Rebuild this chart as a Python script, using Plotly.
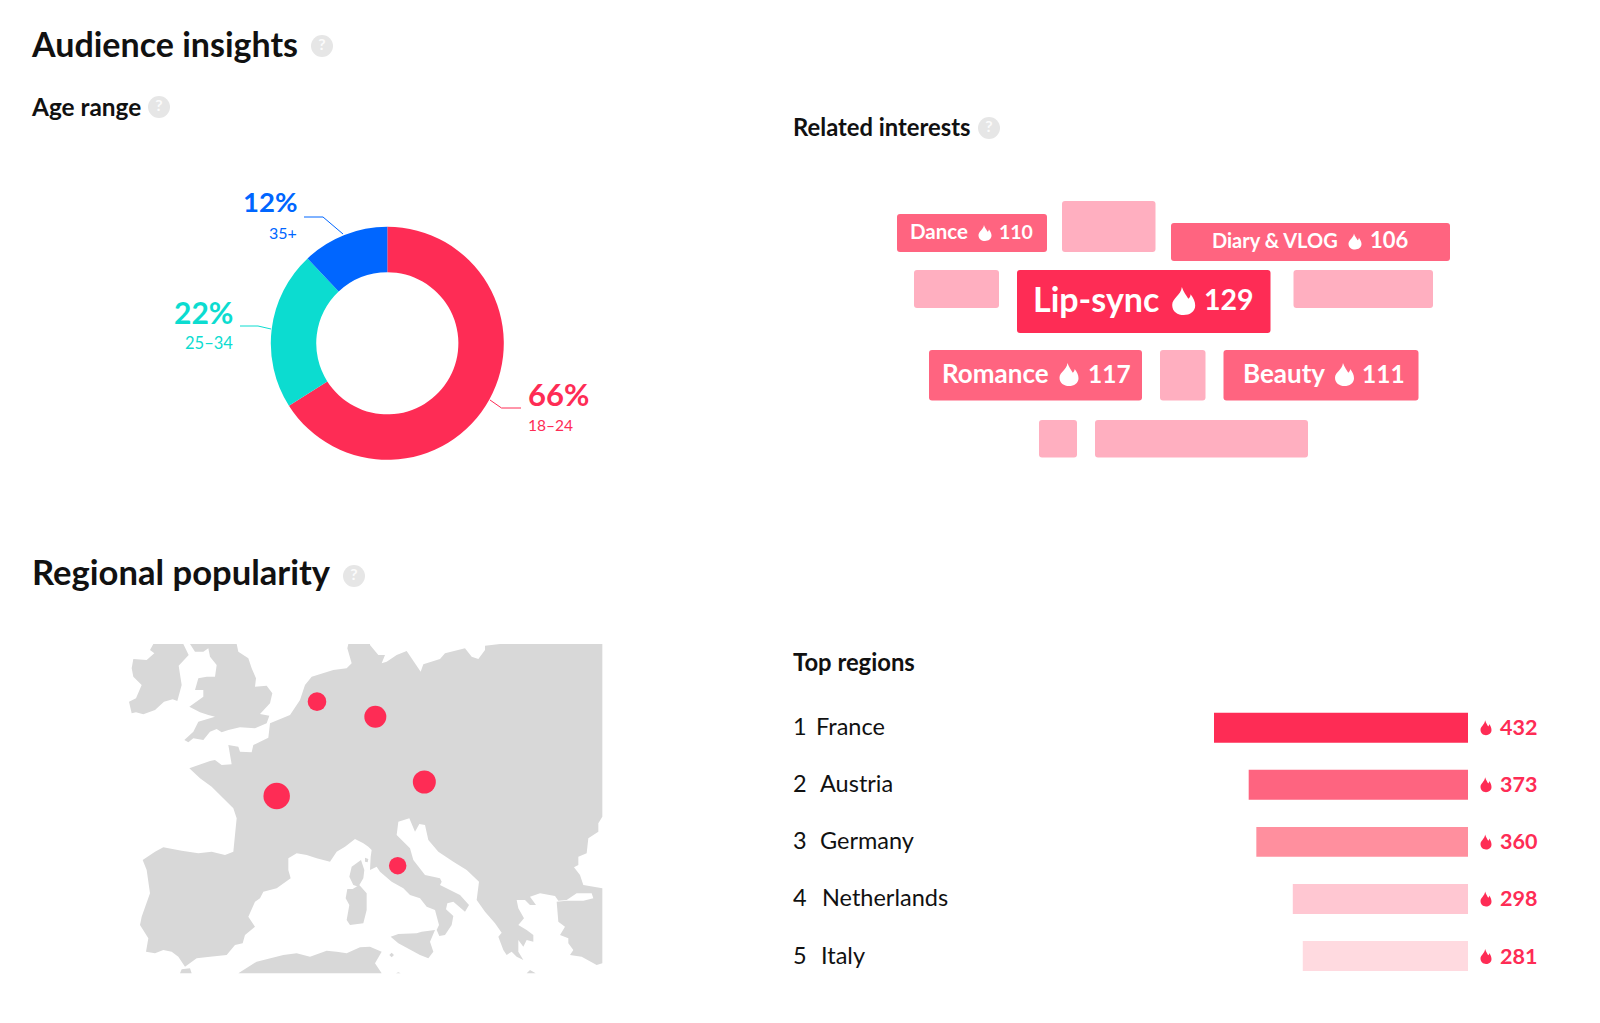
import plotly.graph_objects as go

FONT = "Lato"
RED = "#fe2c55"
TEAL = "#0cdcd0"
BLUE = "#0066ff"
INK = "#111111"
W, H = 1600, 1023

# ---- Age range
age_labels = ["18-24", "25-34", "35+"]
age_values = [66, 22, 12]
age_colors = [RED, TEAL, BLUE]

# ---- Related interests
interest_names = ["Dance", "", "Diary & VLOG", "", "Lip-sync", "", "Romance", "", "Beauty", "", ""]
interest_values = [110, None, 106, None, 129, None, 117, None, 111, None, None]
tile_x0 = [897, 1062, 1171, 914, 1017, 1293.5, 929, 1160, 1223.5, 1039, 1095]
tile_x1 = [1047, 1155.5, 1450, 999, 1270.5, 1433, 1142, 1205.5, 1418.5, 1077, 1308]
tile_y0 = [214, 201, 223, 270, 270, 270, 350, 350, 350, 420, 420]
tile_y1 = [252, 252, 261, 308, 333, 308, 400.5, 400.5, 400.5, 457.5, 457.5]
tile_colors = ["#ff6480", "#ffafc0", "#ff6480", "#ffafc0", RED, "#ffafc0",
               "#ff6480", "#ffafc0", "#ff6480", "#ffafc0", "#ffafc0"]

# ---- Top regions
regions = ["France", "Austria", "Germany", "Netherlands", "Italy"]
region_values = [432, 373, 360, 298, 281]
region_colors = [RED, "#fe6480", "#ff8f9e", "#ffc7d2", "#ffdae0"]
region_name_x = [815, 819, 819, 821, 820]

# ---- Map outlines (map units: 1530 x 1050 box)
ireland_x = [160,250,266,250,236,245,232,218,192,165,130,108,95,87,108,125,100,95,100,140,163,150]
ireland_y = [27,27,60,78,92,150,198,193,200,225,238,232,235,200,190,150,125,100,72,75,55,45]
britain_x = [270,410,415,445,455,468,465,500,517,510,480,508,500,465,420,385,365,350,330,310,280,265,253,280,295,345,325,300,268,310,310,285,295,320,345,350,330,325,310,285]
britain_y = [27,27,50,70,100,130,155,152,175,205,237,242,265,280,277,285,292,282,290,315,310,322,315,290,260,245,240,232,215,185,165,165,130,125,125,90,65,40,50,50]
mainland_x = [745,810,810,835,855,845,860,890,920,935,940,962,970,1020,1035,1095,1115,1135,1155,1155,1200,1507,
              1507,1495,1495,1465,1460,1435,1435,1422,1440,1450,1507,1507,1490,1460,1445,1410,1420,1405,1405,1380,1395,1375,1370,1400,1450,1480,1475,1430,1400,1375,
              1365,1320,1290,1308,1290,1275,1250,1255,1272,1255,1280,1300,1300,1280,1270,1255,1255,1270,1250,1235,1220,1210,1195,1205,1185,1155,1130,1137,1100,1060,1015,985,975,958,945,928,895,890,930,940,975,1020,1025,1020,1080,1107,1095,1060,1042,1038,1060,1055,1035,1018,1010,1017,1005,980,960,930,910,875,840,830,810,812,815,805,790,765,
              735,710,690,650,620,590,565,565,572,530,490,480,465,445,465,435,428,405,380,330,290,255,235,215,190,165,138,145,120,125,150,140,128,165,190,245,295,335,375,400,410,
              400,370,335,300,268,330,345,365,395,385,415,420,455,460,505,510,570,600,615,635,700,740,755,742]
mainland_y = [27,27,30,60,60,85,80,60,48,70,80,110,88,72,55,40,65,72,45,32,27,27,
              545,565,590,610,655,665,690,697,720,750,760,985,990,975,965,960,945,925,910,900,875,860,800,797,797,790,775,775,795,797,
              783,775,785,810,810,795,795,820,850,870,885,900,920,915,935,915,950,975,965,950,960,945,905,893,865,830,795,740,705,680,650,615,570,567,590,550,560,600,640,675,720,730,740,750,780,810,830,800,805,823,843,870,900,903,885,870,825,815,790,780,760,740,710,695,705,665,645,635,625,612,
              635,650,680,670,660,655,670,705,730,760,770,790,800,845,875,900,925,930,960,965,970,995,965,950,945,955,950,910,870,845,775,705,675,650,637,647,655,650,660,650,550,
              520,490,455,430,400,378,375,390,388,330,335,350,352,330,308,265,240,195,150,125,105,100,85,40]
corsica_x = [783,793,790,775,760,748,755]
corsica_y = [675,705,730,755,750,725,695]
elba_x = [795,805,803,795]
elba_y = [668,672,682,680]
sardinia_x = [742,758,778,800,800,790,750,740,748,737]
sardinia_y = [762,762,750,775,825,865,870,855,810,790]
sicily_x = [872,895,950,965,1005,990,1000,985,960,925,895]
sicily_y = [905,897,895,890,885,920,950,970,960,940,925]
africa_x = [415,440,470,550,590,630,680,710,740,780,810,845,825,845]
africa_y = [1015,1000,980,960,955,965,947,950,955,937,935,950,985,1015]
spain_tip_x = [240,245,270,275]
spain_tip_y = [1015,1003,1000,1015]
malta_x = [868,875,882,875]
malta_y = [960,953,960,967]
crete_x = [1280,1290,1307]
crete_y = [1015,1005,1015]
islet_x = [888,895,902]
islet_y = [1015,1012,1015]
bubble_regions = ["France", "Netherlands", "Germany", "Austria", "Italy"]
bubble_x = [530, 651, 826, 973, 893]
bubble_y = [483, 200, 245, 441, 692]
bubble_sizes = [26.5, 18.6, 22, 23, 17.5]

land = [(ireland_x, ireland_y), (britain_x, britain_y), (mainland_x, mainland_y),
        (corsica_x, corsica_y), (elba_x, elba_y), (sardinia_x, sardinia_y), (sicily_x, sicily_y),
        (africa_x, africa_y), (spain_tip_x, spain_tip_y),
        (malta_x, malta_y), (crete_x, crete_y), (islet_x, islet_y)]
land_x, land_y = [], []
for xs, ys in land:
    land_x += xs + [xs[0], None]
    land_y += ys + [ys[0], None]

fig = go.Figure()

fig.update_layout(
    xaxis=dict(domain=[0, 1], range=[0, W], visible=False, fixedrange=True),
    yaxis=dict(domain=[0, 1], range=[H, 0], visible=False, fixedrange=True),
    xaxis2=dict(domain=[1214 / W, 1468 / W], range=[432, 0], visible=False, anchor="y2"),
    yaxis2=dict(domain=[1 - 984.6 / H, 1 - 699.2 / H], autorange="reversed", visible=False,
                anchor="x2", type="category", categoryorder="array", categoryarray=regions),
    xaxis3=dict(domain=[100 / W, 610 / W], range=[0, 1530], visible=False, anchor="y3"),
    yaxis3=dict(domain=[1 - 985 / H, 1 - 635 / H], range=[1050, 0], visible=False, anchor="x3"),
)

# donut
fig.add_trace(go.Pie(
    labels=age_labels, values=age_values, sort=False, direction="clockwise", rotation=0,
    hole=0.61, marker=dict(colors=age_colors, line=dict(width=0)), textinfo="none",
    domain=dict(x=[270.8 / W, 503.8 / W], y=[1 - 460 / H, 1 - 226.6 / H]), showlegend=False))

# interest tiles
fig.add_trace(go.Bar(
    orientation="h", base=tile_x0, x=[b - a for a, b in zip(tile_x0, tile_x1)],
    y=[(a + b) / 2 for a, b in zip(tile_y0, tile_y1)],
    width=[b - a for a, b in zip(tile_y0, tile_y1)],
    marker=dict(color=tile_colors, cornerradius=3, line=dict(width=0)),
    xaxis="x", yaxis="y", showlegend=False, hoverinfo="skip"))

# region bars
fig.add_trace(go.Bar(
    orientation="h", y=regions, x=region_values, width=0.524,
    marker=dict(color=region_colors, line=dict(width=0)),
    xaxis="x2", yaxis="y2", showlegend=False))

# map
fig.add_trace(go.Scatter(x=land_x, y=land_y, mode="lines", fill="toself", fillcolor="#d8d8d8",
                         line=dict(width=0), xaxis="x3", yaxis="y3", showlegend=False,
                         hoverinfo="skip"))
fig.add_trace(go.Scatter(x=bubble_x, y=bubble_y, text=bubble_regions, mode="markers",
                         marker=dict(size=bubble_sizes, color=RED, opacity=1, line=dict(width=0)),
                         xaxis="x3", yaxis="y3", showlegend=False))

# leader lines
leaders = [([521, 501.5, 490], [408, 408, 400], RED),
           ([240, 258, 271], [326, 326, 329], TEAL),
           ([304, 323, 343], [217, 217, 234], BLUE)]
for lx, ly, c in leaders:
    fig.add_trace(go.Scatter(x=lx, y=ly, mode="lines", line=dict(color=c, width=1),
                             xaxis="x", yaxis="y", showlegend=False, hoverinfo="skip"))

# help icons
help_x = [322, 159, 989, 354]
help_y = [46, 107, 128, 576]
fig.add_trace(go.Scatter(x=help_x, y=help_y, mode="markers+text", text=["?"] * 4,
                         textposition="middle center",
                         textfont=dict(family=FONT, size=16, color="#fbfbfb", weight=700),
                         marker=dict(size=22, color="#e6e6e6"),
                         xaxis="x", yaxis="y", showlegend=False, hoverinfo="skip"))

ann = []
def label(text, x, y, size, color=INK, weight=400, anchor="left"):
    ann.append(dict(text=text, x=x, y=y, xref="x", yref="y",
                    xanchor=anchor, yanchor="middle", showarrow=False, borderpad=0,
                    font=dict(family=FONT, size=size, color=color, weight=weight)))

label("Audience insights", 30, 43, 34, weight=700)
label("Age range", 30, 106, 24.4, weight=700)
label("Related interests", 792, 127, 23.8, weight=700)
label("Regional popularity", 31, 571, 34.6, weight=700)
label("Top regions", 792, 662, 23.8, weight=700)

# donut labels
label(f"{age_values[0]}%", 527, 394, 31, RED, 700)
label(age_labels[0].replace("-", "–"), 527, 425, 15.5, RED)
label(f"{age_values[1]}%", 234, 312, 30, TEAL, 700, "right")
label(age_labels[1].replace("-", "–"), 234, 343, 16.5, TEAL, anchor="right")
label(f"{age_values[2]}%", 298, 201, 27.5, BLUE, 700, "right")
label(age_labels[2], 298, 232.5, 16, BLUE, anchor="right")

# flames
shapes = []
def flame(cx, cy, w, h, color):
    def p(u, v):
        return f"{cx + u * w:.2f},{cy + v * h:.2f}"
    path = (f"M {p(-0.08,-0.5)} C {p(0.0,-0.3)} {p(0.12,-0.2)} {p(0.2,-0.08)} "
            f"C {p(0.28,-0.12)} {p(0.3,-0.2)} {p(0.3,-0.24)} "
            f"C {p(0.42,-0.1)} {p(0.5,0.02)} {p(0.5,0.16)} "
            f"C {p(0.5,0.38)} {p(0.26,0.5)} {p(0,0.5)} C {p(-0.26,0.5)} {p(-0.5,0.38)} {p(-0.5,0.14)} "
            f"C {p(-0.5,-0.1)} {p(-0.12,-0.2)} {p(-0.08,-0.5)} Z")
    shapes.append(dict(type="path", path=path, xref="x", yref="y", fillcolor=color,
                       line=dict(width=0), layer="above"))

# index, name x, name size, flame cx, cy, w, h, value x, value size, text y
tile_text = [(0, 909, 20.5, 985, 233, 13, 16, 998, 19.5, 231),
             (2, 1211, 20, 1355, 241.5, 13, 16, 1369, 22, 239.5),
             (4, 1032, 34, 1183.7, 301, 23, 28, 1202.5, 28.5, 298.5),
             (6, 941, 26, 1069, 374.5, 19, 23, 1086.5, 24.5, 373),
             (8, 1242, 26, 1344.5, 374.5, 19, 23, 1361, 24.5, 373)]
for i, nx, ns, fx, fy, fw, fh, vx, vs, ty in tile_text:
    label(interest_names[i], nx, ty, ns, "#ffffff", 700)
    flame(fx, fy, fw, fh, "#ffffff")
    label(str(interest_values[i]), vx, ty, vs, "#ffffff", 700)

# region rows
row_y = [725.5, 782.5, 839.5, 896.5, 954.5]
flame_y = [727.7, 784.7, 842, 899, 956.5]
for i, r in enumerate(regions):
    label(str(i + 1), 792, row_y[i], 23.5)
    label(r, region_name_x[i], row_y[i], 23.5)
    flame(1486, flame_y[i], 11, 15, RED)
    label(str(region_values[i]), 1499, row_y[i] + 1, 21.5, RED, 700)

fig.update_layout(width=W, height=H, margin=dict(l=0, r=0, t=0, b=0), autosize=False,
                  paper_bgcolor="white", plot_bgcolor="white",
                  annotations=ann, shapes=shapes, barmode="overlay", hovermode="closest")

fig.write_html("out.html", config=dict(displayModeBar=False),
               post_script="document.body.style.margin='0';")
